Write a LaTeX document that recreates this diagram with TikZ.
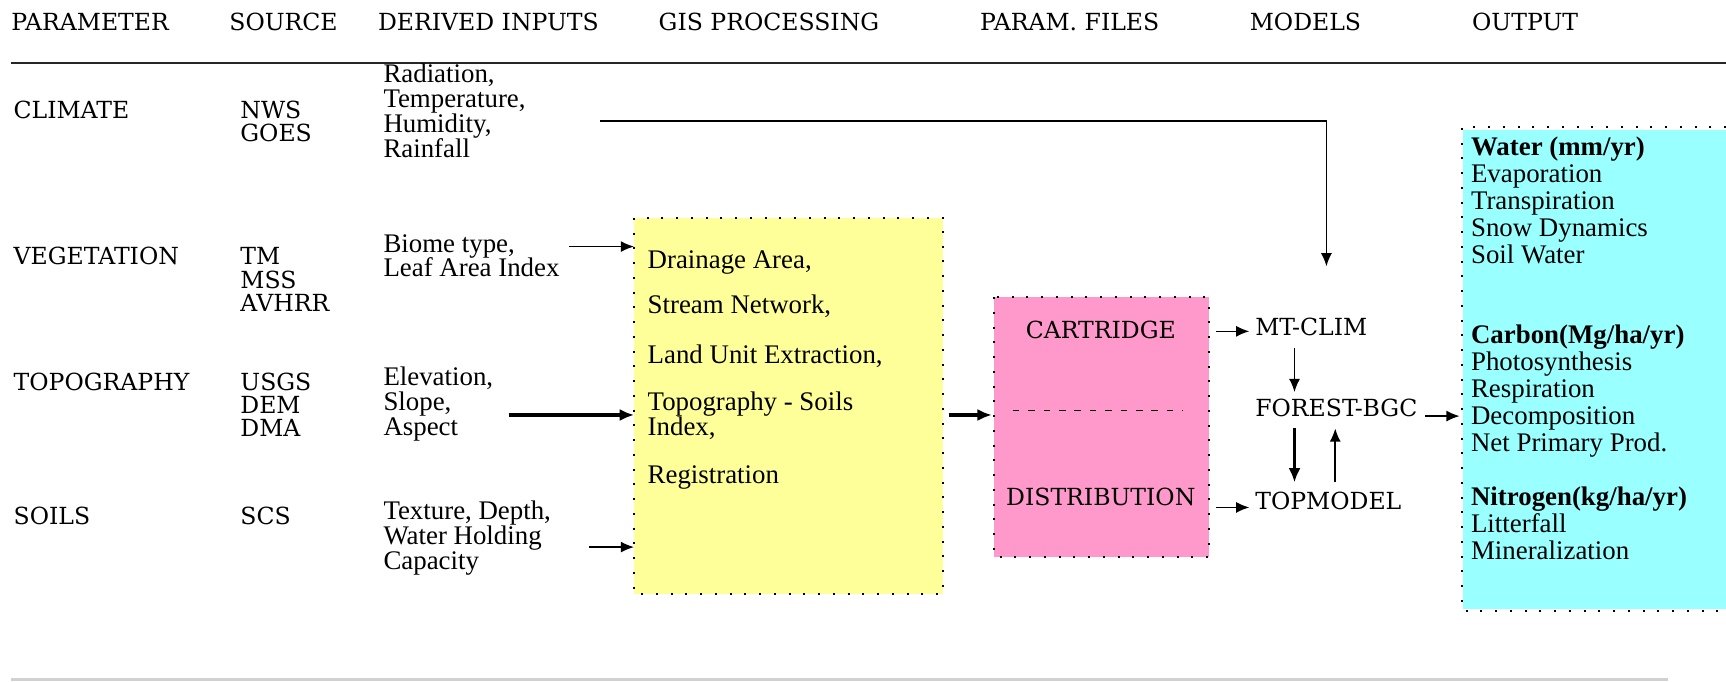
\documentclass[tikz,border=0pt]{standalone}
\usepackage{fontspec}
\setmainfont{Liberation Serif}
\newfontfamily\capsfont{DejaVu Serif}
\usetikzlibrary{arrows.meta}
\definecolor{gisyellow}{HTML}{FFFF99}
\definecolor{parpink}{HTML}{FF99CC}
\definecolor{outcyan}{HTML}{99FFFF}
\tikzset{
  hdr/.style={anchor=base west, inner sep=0pt, align=left, font=\capsfont\fontsize{10.7}{10.6}\selectfont},
  txt/.style={anchor=base west, inner sep=0pt, align=left, font=\fontsize{12.2}{11.3}\selectfont},
  outtxt/.style={anchor=base west, inner sep=0pt, align=left, font=\fontsize{12.2}{12.25}\selectfont},
  arr/.style={-{Latex[length=6pt,width=5pt]}, line width=0.7pt},
  tarr/.style={-{Latex[length=6.5pt,width=5.5pt]}, line width=1.4pt},
  dotbox/.style={line width=0.9pt, dash pattern=on 0.9pt off 5.8pt},
}
\begin{document}
\begin{tikzpicture}[x=0.5pt, y=-0.5pt]
\useasboundingbox (0,0) rectangle (1568,619);
% headers
\node[hdr] (hpar) at (10,27.5) {PARAMETER};
\node[hdr] (hsrc) at (208,27.5) {SOURCE};
\node[hdr] (hder) at (343,27.5) {DERIVED INPUTS};
\node[hdr] (hgis) at (598,27.5) {GIS PROCESSING};
\node[hdr] (hfil) at (890,27.5) {PARAM. FILES};
\node[hdr] (hmod) at (1135,27.5) {MODELS};
\node[hdr] (hout) at (1337,27.5) {OUTPUT};
\coordinate (hl1) at (10,57);
\coordinate (hl2) at (1568,57);
\draw[line width=0.9pt, black!85] (hl1) -- (hl2);
\coordinate (bl1) at (10,617.5);
\coordinate (bl2) at (1515,617.5);
\draw[line width=1.3pt, black!18] (bl1) -- (bl2);
% parameter column
\node[hdr] (pclim) at (12,107.5) {CLIMATE};
\node[hdr] (pveg) at (12,240.5) {VEGETATION};
\node[hdr] (ptop) at (12,354.5) {TOPOGRAPHY};
\node[hdr] (psoil) at (12,476.5) {SOILS};
% source column (base anchor = last line)
\node[hdr] (sclim) at (218,128.7) {NWS\\GOES};
\node[hdr] (sveg) at (218,282.9) {TM\\MSS\\AVHRR};
\node[hdr] (stop) at (218,396.9) {USGS\\DEM\\DMA};
\node[hdr] (ssoil) at (218,476.5) {SCS};
% derived inputs (base anchor = last line)
\node[txt] (dclim) at (348,142.8) {Radiation,\\Temperature,\\Humidity,\\Rainfall};
\node[txt] (dveg) at (348,251.6) {Biome type,\\Leaf Area Index};
\node[txt] (dtop) at (348,395.2) {Elevation,\\Slope,\\Aspect};
\node[txt] (dsoil) at (348,517.2) {Texture, Depth,\\Water Holding\\Capacity};
% GIS box
\fill[gisyellow] (576,198) rectangle (857,540);
\draw[dotbox] (576,198) rectangle (857,540);
\coordinate (gisnw) at (576,198);
\node[inner sep=0pt, minimum width=140.5pt, minimum height=171pt, anchor=north west] (gis) at (gisnw) {};
\node[txt] (g1) at (588,244) {Drainage Area,};
\node[txt] (g2) at (588,285) {Stream Network,};
\node[txt] (g3) at (588,330) {Land Unit Extraction,};
\node[txt] (g4) at (588,395.6) {Topography - Soils\\Index,};
\node[txt] (g5) at (588,439) {Registration};
% PARAM box
\fill[parpink] (903,270) rectangle (1098,506);
\draw[dotbox] (903,270) rectangle (1098,506);
\coordinate (pinknw) at (903,270);
\node[inner sep=0pt, minimum width=97.5pt, minimum height=118pt, anchor=north west] (pink) at (pinknw) {};
\node[hdr, anchor=base] (cart) at (1000,307.5) {CARTRIDGE};
\node[hdr, anchor=base] (dist) at (1000,459.5) {DISTRIBUTION};
\coordinate (ds1) at (920,373);
\coordinate (ds2) at (1075,373);
\draw[line width=0.7pt, dash pattern=on 3pt off 4pt] (ds1) -- (ds2);
% models
\node[hdr] (mtclim) at (1140,304.5) {MT-CLIM};
\node[hdr] (forest) at (1140,378.5) {FOREST-BGC};
\node[hdr] (topm) at (1140,462.5) {TOPMODEL};
% output box
\fill[outcyan] (1329,118) rectangle (1568,553);
\draw[dotbox] (1568,115) -- (1328,115) -- (1328,555) -- (1568,555);
\coordinate (outnw) at (1328,115);
\node[inner sep=0pt, minimum width=120pt, minimum height=220pt, anchor=north west] (out) at (outnw) {};
\node[outtxt] (owat) at (1336,239) {\textbf{Water (mm/yr)}\\Evaporation\\Transpiration\\Snow Dynamics\\Soil Water};
\node[outtxt] (ocar) at (1336,410.5) {\textbf{Carbon(Mg/ha/yr)}\\Photosynthesis\\Respiration\\Decomposition\\Net Primary Prod.};
\node[outtxt] (onit) at (1336,508.5) {\textbf{Nitrogen(kg/ha/yr)}\\Litterfall\\Mineralization};
% connectors
\coordinate (clA) at (545,110);
\coordinate (clB) at (1205,242);
\draw[arr] (clA) -| (clB);
\coordinate (vegA) at (517,224);
\draw[arr] (vegA) -- (vegA -| gis.west);
\coordinate (topA) at (462,377);
\draw[tarr] (topA) -- (topA -| gis.west);
\coordinate (soilA) at (535,497);
\draw[arr] (soilA) -- (soilA -| gis.west);
\coordinate (gpy) at (0,377);
\draw[tarr] ([xshift=2pt]gis.east |- gpy) -- ([xshift=-1pt]pink.west |- gpy);
\coordinate (pmy) at (0,301);
\draw[arr] ([xshift=3pt]pink.east |- pmy) -- ([xshift=-2.5pt]mtclim.west |- pmy);
\coordinate (pty) at (0,461);
\draw[arr] ([xshift=3pt]pink.east |- pty) -- ([xshift=-2.5pt]topm.west |- pty);
\coordinate (mx1) at (1176,0);
\coordinate (mx2) at (1213,0);
\draw[arr] ([yshift=-5.5pt]mtclim.south -| mx1) -- ([yshift=3pt]forest.north -| mx1);
\draw[tarr] ([yshift=-5pt]forest.south -| mx1) -- ([yshift=4pt]topm.north -| mx1);
\draw[arr] ([yshift=4pt]topm.north -| mx2) -- ([yshift=-5pt]forest.south -| mx2);
\coordinate (foy) at (0,378);
\draw[arr] ([xshift=3.5pt]forest.east |- foy) -- ([xshift=-1pt]out.west |- foy);
\end{tikzpicture}
\end{document}
